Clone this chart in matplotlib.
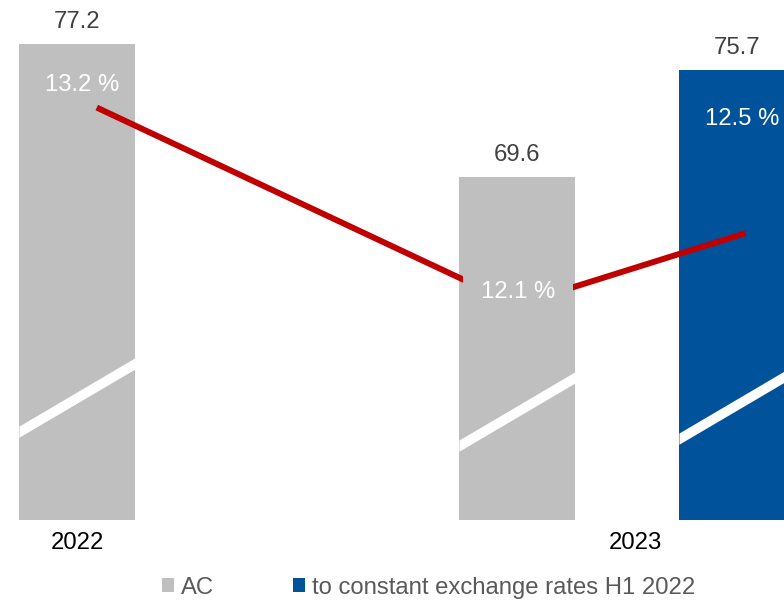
import matplotlib
matplotlib.use("Agg")
import matplotlib.pyplot as plt

plt.rcParams["font.family"] = ["Liberation Sans", "DejaVu Sans"]

# ---- data -------------------------------------------------------------
years = ["2022", "2023"]
ac_label = "AC"
cer_label = "to constant exchange rates H1 2022"
ac_values = [77.2, 69.6]          # sales, actual currency
cer_values = [75.7]               # 2023 at constant exchange rates
margin_values = [13.2, 12.1, 12.5]  # margin in %

# ---- style ------------------------------------------------------------
GRAY = "#BFBFBF"
BLUE = "#00539B"
RED = "#C00000"
VALUE_TXT = "#404040"
LEGEND_TXT = "#595959"
FS = 17.2

ac_pos = [0.0, 2.0]
cer_pos = [3.0]
bar_w = 0.527
axis_floor = 50.0          # broken value axis starts here

fig = plt.figure(figsize=(7.84, 6.02), dpi=100)
ax = fig.add_axes([0, 82 / 602, 1, 520 / 602])
ax.set_xlim(-0.35, 3.214)
ax.set_ylim(axis_floor, axis_floor + 520 / 17.5)

ac_bars = ax.bar(ac_pos, ac_values, width=bar_w, color=GRAY, zorder=2, label=ac_label)
cer_bars = ax.bar(cer_pos, cer_values, width=bar_w, color=BLUE, zorder=2, label=cer_label)

# white diagonal break marks across each bar (axis does not start at zero)
break_mid = [57.0, 56.2, 56.6]
rise = 3.9
half_thick = 0.32
for xc, mid in zip(ac_pos + cer_pos, break_mid):
    xs = [xc - bar_w / 2, xc + bar_w / 2]
    yc = [mid - rise / 2, mid + rise / 2]
    ax.fill_between(xs, [y - half_thick for y in yc], [y + half_thick for y in yc],
                    color="white", linewidth=0, zorder=3)

# value labels above the bars
for xc, v in zip(ac_pos + cer_pos, ac_values + cer_values):
    ax.annotate(f"{v:.1f}", xy=(xc, v), xytext=(0, 16), textcoords="offset pixels",
                ha="center", va="baseline", fontsize=FS, color=VALUE_TXT, zorder=6)

# x axis: year labels only
ax.set_xticks([0.0, 2.54])
ax.set_xticklabels(years)
ax.tick_params(axis="x", length=0, pad=8.3, labelsize=FS, labelcolor="black")
ax.set_yticks([])
for s in ax.spines.values():
    s.set_visible(False)

# ---- margin line on a secondary axis ---------------------------------
ax2 = ax.twinx()
ax2.set_ylim(10.90, 13.80)
ax2.set_xlim(ax.get_xlim())
ax2.axis("off")
line_x = [ac_pos[0] + 0.09, ac_pos[1], cer_pos[0] + 0.04]
ax2.plot(line_x, margin_values, color=RED, linewidth=4.3,
         solid_capstyle="butt", solid_joinstyle="miter", zorder=4)

# end-point margin labels sit inside the top of their bars
for xc, top, m, dy in [(ac_pos[0], ac_values[0], margin_values[0], -47),
                       (cer_pos[0], cer_values[0], margin_values[2], -55)]:
    ax.annotate(f"{m:.1f} %", xy=(xc, top), xytext=(5, dy), textcoords="offset pixels",
                ha="center", va="baseline", fontsize=FS, color="white", zorder=6)

# middle label masks the line where it meets the 2023 bar
ax2.annotate(f"{margin_values[1]:.1f} %", xy=(line_x[1], margin_values[1]),
             xytext=(1, 13), textcoords="offset pixels",
             ha="center", va="center", fontsize=FS, color="white", zorder=6,
             bbox=dict(boxstyle="square,pad=0.74", fc=GRAY, ec="none"))

# ---- legend ------------------------------------------------------------
leg = fig.legend(handles=[ac_bars, cer_bars], loc="center", bbox_to_anchor=(0.547, 0.024),
                 ncol=2, frameon=False, fontsize=FS, handlelength=0.5, handleheight=0.48,
                 handletextpad=0.3, columnspacing=3.3, borderpad=0)
for t in leg.get_texts():
    t.set_color(LEGEND_TXT)

fig.savefig("out.png", dpi=100)
